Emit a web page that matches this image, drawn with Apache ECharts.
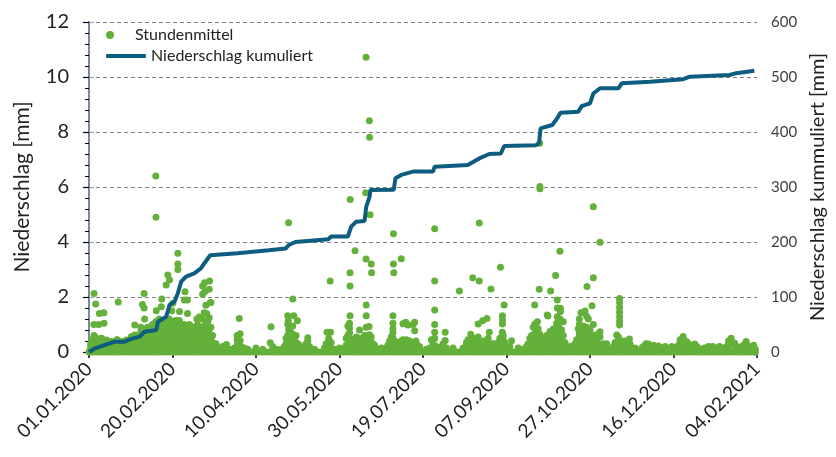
<!DOCTYPE html>
<html>
<head>
<meta charset="utf-8">
<script src="https://cdn.jsdelivr.net/npm/echarts@6/dist/echarts.min.js"></script>
<style>
  html, body { margin: 0; padding: 0; background: #fff; }
  #main { width: 836px; height: 457px; }
</style>
</head>
<body>
<div id="main"></div>
<script>
// Achsenbeschriftung x (Tage ab 01.01.2020, alle 50 Tage)
var xTickLabels = ['01.01.2020', '20.02.2020', '10.04.2020', '30.05.2020', '19.07.2020',
  '07.09.2020', '27.10.2020', '16.12.2020', '04.02.2021'];

// Stunden ohne Niederschlag (Tag ab 01.01.2020, Wert 0)
var nullTage = [0,2,4,6,8,10,12,14,16,18,20,22,24,26,28,30,32,34,36,38,40,42,44,46,48,50,52,54,56,58,
  60,62,64,66,68,70,72,74,76,78,80,82,84,86,88,90,92,94,96,98,100,102,104,106,108,110,112,114,116,118,
  120,122,124,126,128,130,132,134,136,138,140,142,144,146,148,150,152,154,156,158,160,162,164,166,168,
  170,172,174,176,178,180,182,184,186,188,190,192,194,196,198,200,202,204,206,208,210,212,214,216,218,
  220,222,224,226,228,230,232,234,236,238,240,242,244,246,248,250,252,254,256,258,260,262,264,266,268,
  270,272,274,276,278,280,282,284,286,288,290,292,294,296,298,300,302,304,306,308,310,312,314,316,318,
  320,322,324,326,328,330,332,334,336,338,340,342,344,346,348,350,352,354,356,358,360,362,364,366,368,
  370,372,374,376,378,380,382,384,386,388,390,392,394,396,398,399];

// Stundenmittel [Tag, mm] - einzeln ablesbare Punkte
var stundenmittel = [
  [1,0.2],[1.6,0.44],[3,2.13],[4,1.75],[2.9,1.0],[3,0.6],[4.6,0.5],[5.8,1.0],[6,0.25],[6.2,1.4],[7.5,0.5],
  [8.9,1.43],[9,1.05],[10.5,0.44],[12,0.2],[13.5,0.38],[16.5,0.44],[17.5,1.82],[19.5,0.38],[20,0.15],
  [22.4,0.44],[24,0.3],[25.4,0.56],[27.4,0.62],[27.4,0.98],
  [31,0.7],[32,1.73],[32,0.45],[33,2.13],[33,1.6],[33.3,1.2],[34,0.3],[35,0.55],[36,0.2],[37,0.4],
  [38,0.65],[39,0.3],[40,6.4],[40.1,4.9],[40.3,1.5],[41,0.9],[42,0.5],[43.3,1.65],[43.6,1.93],[44,1.05],
  [44.5,0.75],[45,0.35],[46.2,2.44],[47.2,2.8],[48.2,2.62],[47,1.1],[48,0.6],[49.6,1.5],[50.2,1.77],
  [50,0.95],[51,0.7],[51.5,0.4],[52,1.15],[53.2,3.59],[53.2,3.2],[53.2,3.0],[53,0.85],[54.2,1.47],
  [54,0.55],[55,1.0],[56,0.3],[57.1,1.89],[57.5,2.19],[58,0.75],[58.9,1.89],[59,1.4],[59.5,0.45],
  [60,1.0],[61,0.6],[62,0.25],[63,0.8],[64.6,1.2],[64.6,0.9],[65,0.5],[66,1.27],[66.5,0.35],[67,0.7],
  [68,2.4],[68,2.1],[69.2,2.52],[69.4,2.2],[69,1.43],[69,0.95],[70,1.7],[70,0.55],[70.5,1.4],[71,1.1],
  [71.5,0.8],[72.2,2.58],[72,2.28],[72.6,1.79],[73,1.8],[72.5,0.4],[74,0.6],[74,0.2],
  [76,0.3],[79,0.15],[82.3,0.27],[88.7,0.6],[88.7,0.45],[90,1.22],[90.5,0.66],[90.5,0.42],[95,0.1],
  [100,0.15],[109,0.92],[108.5,0.34],[112,0.1],[118,0.3],[119.5,4.7],[119,1.32],[119.3,1.14],
  [119.6,0.8],[121,0.7],[120,0.45],[122,1.93],[122.6,1.32],[123,0.45],[124.8,1.14],[124,0.6],[125,0.3],
  [131,0.52],[131,0.4],[135,0.1],[142.5,0.72],[144.6,0.72],[143.5,0.5],[144.4,2.58],[150,0.15],
  [155,0.3],[156.3,2.88],[156.3,2.4],[156.4,5.55],[156.3,1.32],[156,1.05],[156,0.87],[156,0.7],
  [156,0.52],[157,0.3],[159.3,3.68],[162,0.8],[163,0.4],[165.7,5.79],[165.9,10.72],[165.9,3.38],
  [166,1.71],[166,1.32],[166,0.9],[167.7,0.93],[168,0.63],[168.5,0.45],[167.9,8.41],[168,7.81],
  [168.3,4.99],[169,3.2],[169.2,2.88],[170,0.3],[175,0.15],[180,0.3],[182,1.32],[182,1.05],[182,0.7],
  [182,0.5],[182.3,4.3],[182.5,2.88],[182.3,3.2],[183,0.3],[187,3.39],[187,0.4],[188,1.03],
  [189.7,1.08],[191,0.98],[191,0.4],[194,1.0],[195,1.08],[195,0.77],[195.8,0.4],[198,0.2],
  [202,0.1],[207,4.48],[207,2.58],[207,1.53],[207,0.72],[207,1.0],[205,0.45],[213.3,0.72],[213.3,0.42],
  [218,0.15],[221.8,2.22],[228.6,0.65],[229.8,2.7],[230,0.35],[233,1.02],[233.7,4.69],[233.7,2.58],
  [235.7,1.14],[237,0.4],[238.3,1.22],[239.7,0.72],[240.7,2.29],[242,0.3],[246.4,3.08],[247.6,1.32],
  [247.6,1.16],[247.6,1.02],[247.5,0.72],[248.6,1.71],[248,0.45],[253,0.41],[257,0.15],
  [262,0.2],[265,0.4],[266.9,1.71],[267,1.02],[268.5,1.1],[268,0.72],[267,0.68],[269.5,0.55],[270,0.65],
  [269.6,2.28],[269.9,7.59],[270,5.94],[270,6.02],[274.4,1.35],[274.8,1.31],[276.4,2.22],[278,0.84],
  [279.4,2.78],[280.4,1.89],[280.4,1.28],[280.5,1.6],[281,0.96],[281,0.66],[282,0.84],[282,0.55],
  [282,3.66],[282.3,1.59],[282.3,1.47],[284,1.1],[285,0.35],[288,0.2],[292,0.3],[293.6,1.2],[293.6,1.0],
  [293.6,0.66],[294.6,1.43],[296,0.95],[297,1.49],[297,0.7],[298,1.3],[298.2,2.38],[299,1.2],[300,0.6],
  [300,0.7],[301.2,1.68],[302,2.7],[302,5.28],[302,1.0],[303,0.45],[304.6,0.65],[306,3.99],[306,0.74],
  [306,0.55],[310,0.3],[314,0.2],[316,0.62],[317,0.45],[317.7,1.95],[317.7,1.8],[317.7,1.62],
  [317.7,1.45],[317.7,1.28],[317.7,1.12],[317.7,0.98],[320.4,0.4],[323.6,0.47],[327,0.15],
  [331,0.15],[333.5,0.3],[335,0.29],[338,0.25],[340.9,0.22],[345,0.2],[350,0.15],[352,0.18],
  [355.8,0.56],[356,0.33],[357.8,0.38],[360,0.2],[362.7,0.29],[366,0.1],[368.7,0.15],[371,0.2],
  [373.6,0.2],[377.6,0.2],[380,0.15],[384.5,0.5],[386.5,0.33],[388,0.2],[391,0.2],[393.5,0.38],
  [394,0.27],[397,0.15],[399,0.1]
];

// dichte Bereiche kleiner Werte: [Tag, Wert, Wert, ...]
var stundenmittelDicht = [
  [1,0.1,0.3],[2,0.35],[4,0.15,0.3],[5,0.2],[7,0.1,0.3],[8,0.35],[10,0.15],[11,0.3],[13,0.15],[14,0.3],
  [15,0.1],[17,0.2,0.45],[18,0.1],[21,0.25],[23,0.15],[26,0.2,0.4],[28,0.15,0.35,0.55],[29,0.25],
  [30,0.15,0.35,0.6],[31,0.25,0.5,0.9],[32,0.1,0.3,0.65],[33,0.2,0.45,0.8],[34,0.15,0.5,0.7],[35,0.3,0.9],
  [36,0.1,0.4,0.6],[37,0.2,0.55,0.8],[38,0.15,0.35,1.0],[39,0.1,0.5,0.75],[40,0.2,0.4,0.6,1.1],
  [41,0.15,0.35,0.65],[42,0.25,0.75,1.2],[43,0.1,0.3,0.55,0.85],[44,0.2,0.45],[45,0.15,0.6,0.9],
  [46,0.3,0.5,0.75,1.0],[47,0.15,0.4,0.85],[48,0.25,0.45,0.95,1.2],[49,0.1,0.35,0.6,0.8],[50,0.2,0.5,1.1],
  [51,0.15,0.3,0.9],[52,0.25,0.5,0.7],[53,0.1,0.4,0.6,1.0],[54,0.2,0.8,1.15],[55,0.3,0.5,0.7],
  [56,0.15,0.45,0.85],[57,0.25,0.6,1.0],[58,0.1,0.35,0.5],[59,0.2,0.65,0.9],[60,0.15,0.4,0.75],
  [61,0.3,0.5,0.95],[62,0.1,0.45,0.7],[63,0.2,0.35,0.55],[64,0.15,0.4,0.65],[65,0.25,0.7,1.0],
  [66,0.1,0.45,0.8],[67,0.2,0.35,0.55],[68,0.15,0.5,0.9,1.2],[69,0.25,0.4,0.65],[70,0.1,0.3,0.8,1.0],
  [71,0.2,0.45,0.6],[72,0.15,0.35,0.7,1.25],[73,0.25,0.5,0.9],[74,0.1,0.35],[75,0.2],
  [77,0.1],[80,0.2],[84,0.1],[87,0.15],[89,0.25,0.3],[91,0.1,0.2],[93,0.15],[104,0.1],[110,0.2],
  [115,0.1],[117,0.2],
  [118,0.15,0.5],[119,0.25,0.6,1.0],[120,0.15,0.35,0.9],[121,0.2,0.5],[122,0.1,0.3,0.65,0.95],
  [123,0.2,0.6],[124,0.15,0.35],[126,0.1,0.25],[128,0.15],[130,0.2,0.3],[132,0.1,0.2],
  [141,0.15],[142,0.3],[143,0.2],[145,0.15,0.35],[147,0.1],
  [153,0.15],[154,0.25,0.5],[155,0.15,0.6,0.95],[156,0.2,0.35],[157,0.15,0.45],[158,0.25],[159,0.1,0.4],
  [160,0.2,0.55],[161,0.15],[162,0.3,0.5],[164,0.2,0.35],[165,0.1,0.3,0.6],[166,0.2,0.45],
  [167,0.15,0.3,0.6],[168,0.2,0.4],[169,0.1,0.3,0.55],[170,0.15],[171,0.25],[173,0.1],
  [178,0.15],[179,0.25],[180,0.15,0.4],[181,0.2,0.55],[182,0.15,0.3,0.85],[183,0.2,0.4],[184,0.15,0.35],
  [185,0.25],[186,0.15,0.3],[187,0.2],[188,0.3,0.45],[189,0.15,0.35],[190,0.2,0.45],[191,0.15,0.3],
  [192,0.25,0.4],[193,0.15],[194,0.2,0.35],[195,0.15,0.25],[196,0.3],[197,0.15],
  [204,0.15],[206,0.25,0.35],[207,0.15,0.5],[208,0.2],[210,0.15],[212,0.2,0.3],[214,0.15],
  [224,0.15],[226,0.2,0.35],[227,0.15,0.45],[228,0.25],[229,0.15,0.4],[230,0.2,0.5],[231,0.15,0.3],
  [232,0.25,0.4],[233,0.15,0.55],[234,0.2,0.35],[235,0.15,0.4],[236,0.25,0.3],[238,0.2,0.4],
  [239,0.15,0.5],[240,0.2],[241,0.3],[243,0.15],[245,0.2,0.35],[246,0.15,0.5],[247,0.25,0.4],
  [248,0.15,0.6],[249,0.2,0.35],[250,0.15],[252,0.2],
  [260,0.1],[263,0.15,0.3],[264,0.2,0.5],[265,0.15,0.6],[266,0.25,0.45,0.9],[267,0.15,0.35],
  [268,0.2,0.5],[269,0.15,0.4,0.85],[270,0.25,0.3],[271,0.15,0.45],[272,0.2,0.35],[273,0.15],
  [274,0.25,0.6],[275,0.15,0.4],[276,0.2,0.55,0.75],[277,0.15,0.35],[278,0.25,0.5],[279,0.15,0.4,0.7],
  [280,0.2,0.35,1.05],[281,0.15,0.45],[282,0.25,0.35,1.2],[283,0.15,0.5,0.8],[284,0.2,0.6],[286,0.15],
  [289,0.2],[291,0.15,0.3],[292,0.2,0.45],[293,0.15,0.35,0.85],[294,0.25,0.5],[295,0.15,0.4,0.8],
  [296,0.2,0.55],[297,0.15,0.35],[298,0.25,0.45,0.9],[299,0.15,0.6],[300,0.2,0.35,0.8],[301,0.15,0.45],
  [302,0.25,0.6],[303,0.15,0.35],[304,0.2,0.5],[305,0.15,0.3],[307,0.2],[308,0.15,0.3],[311,0.1],
  [315,0.2,0.35],[316,0.15,0.3],[317,0.25,0.55],[318,0.15,0.4],[319,0.2,0.3],[321,0.15],[322,0.25],
  [324,0.15,0.3],[326,0.1],
  [332,0.1,0.2],[334,0.15,0.25],[336,0.1],[339,0.15,0.2],[341,0.1],[343,0.15],[347,0.1],[349,0.2],
  [353,0.1,0.25],[354,0.35,0.45],[355,0.2,0.4],[357,0.25],[358,0.15],[359,0.3],[361,0.2],[362,0.15],
  [364,0.2],[367,0.1],[370,0.15],[372,0.1],[375,0.15],[376,0.1],[379,0.1],[382,0.2],[383,0.3,0.4],
  [384,0.25],[385,0.35],[387,0.2],[389,0.1],[392,0.25],[393,0.3],[395,0.2],[396,0.15],[398,0.25]
];

// Niederschlag kumuliert (Tag, mm)
var kumTage = [0,3.6,9.5,15.5,21.4,24.4,30.4,33.3,40.3,41.3,46.2,48.2,51.2,53.2,55.2,58.1,63,67,69,72.6,
  88.9,90,107.7,117.7,119.6,123.6,143.3,145,155,157,160,165,166,168,168.5,182.5,183.5,187,194,206,207,
  226.8,233.7,239.7,246.6,248.6,267.5,269.5,270.4,277.4,280.4,282.3,293,295,300,302,306,317,319,336,
  355.8,359.8,383.6,387.6,398.4];
var kumWerte = [0,6.7,12.7,18.7,18.7,23,28,37,40,55,64,85.5,91.5,107,128,137,143,152,161,176,
  179.5,182,185,188,194.5,200,205,210,210,228,237,238,264,282,294.5,295,316,322,328,328,337,
  340,352,360,361,374.5,376,379,406.7,412.7,425,435,437,447,452,470,479.5,479.5,488.5,491.5,
  496,500.5,503.6,507,511.5];

var fontFam = 'Lato, "Noto Sans", sans-serif';

// Punkte zusammenbauen
var punkte = nullTage.map(function (d) { return [d, 0]; }).concat(stundenmittel);
stundenmittelDicht.forEach(function (row) {
  for (var k = 1; k < row.length; k++) {
    punkte.push([row[0], row[k]]);
  }
});

var myChart = echarts.init(document.getElementById('main'));
var option = {
  backgroundColor: '#ffffff',
  animation: false,
  textStyle: { fontFamily: fontFam },
  grid: { left: 89, right: 75, top: 22, bottom: 105, containLabel: false },
  legend: [
    {
      left: 106,
      top: 27,
      padding: 0,
      itemWidth: 40,
      itemHeight: 8,
      textStyle: { fontFamily: fontFam, fontSize: 16, color: '#222' },
      data: [{ name: 'Stundenmittel', icon: 'circle' }]
    },
    {
      left: 106,
      top: 48,
      padding: 0,
      itemWidth: 40,
      itemHeight: 4,
      textStyle: { fontFamily: fontFam, fontSize: 16, color: '#222' },
      data: [{ name: 'Niederschlag kumuliert', icon: 'roundRect' }]
    }
  ],
  xAxis: [
    {
      type: 'value',
      min: 0,
      max: 400,
      interval: 50,
      axisLine: { lineStyle: { color: '#000', width: 1.5 } },
      axisTick: { show: true, length: 6, lineStyle: { color: '#000', width: 1.5 } },
      splitLine: { show: false },
      axisLabel: {
        rotate: 45,
        margin: 14,
        fontSize: 19,
        color: '#222',
        fontFamily: fontFam,
        formatter: function (v) { return xTickLabels[Math.round(v / 50)]; }
      }
    },
    {
      type: 'value',
      position: 'top',
      min: 0,
      max: 400,
      axisLine: { show: true, lineStyle: { color: '#000', width: 1.5 } },
      axisTick: { show: false },
      axisLabel: { show: false },
      splitLine: { show: false }
    }
  ],
  yAxis: [
    {
      type: 'value',
      min: 0,
      max: 12,
      interval: 2,
      name: 'Niederschlag [mm]',
      nameLocation: 'middle',
      nameGap: 56,
      nameTextStyle: { fontSize: 21, color: '#222', fontFamily: fontFam },
      axisLine: { show: true, lineStyle: { color: '#000', width: 1.5 } },
      axisTick: { show: true, length: 6, lineStyle: { color: '#000', width: 1.2 } },
      minorTick: { show: true, splitNumber: 5, length: 4, lineStyle: { color: '#000', width: 1 } },
      splitLine: { show: true, lineStyle: { color: '#808080', type: [4, 3], width: 1 } },
      axisLabel: { fontSize: 20, color: '#222', margin: 20, fontFamily: fontFam }
    },
    {
      type: 'value',
      min: 0,
      max: 600,
      interval: 100,
      position: 'right',
      name: 'Niederschlag kummuliert [mm]',
      nameLocation: 'middle',
      nameGap: 47,
      nameRotate: 90,
      nameTextStyle: { fontSize: 20, color: '#222', fontFamily: fontFam },
      axisLine: { show: true, lineStyle: { color: '#8ea3bd', width: 1.5 } },
      axisTick: { show: true, length: 5, lineStyle: { color: '#8ea3bd', width: 1.2 } },
      splitLine: { show: false },
      axisLabel: { fontSize: 15, color: '#404040', margin: 14, fontFamily: fontFam }
    }
  ],
  series: [
    {
      name: 'Stundenmittel',
      type: 'scatter',
      symbolSize: 7,
      itemStyle: { color: '#63b03a', opacity: 1 },
      data: punkte,
      z: 2
    },
    {
      name: 'Niederschlag kumuliert',
      type: 'line',
      yAxisIndex: 1,
      showSymbol: false,
      symbol: 'none',
      lineStyle: { color: '#0d5d80', width: 4 },
      itemStyle: { color: '#0d5d80' },
      data: kumTage.map(function (d, i) { return [d, kumWerte[i]]; }),
      z: 3
    }
  ]
};
myChart.setOption(option);
</script>
</body>
</html>
